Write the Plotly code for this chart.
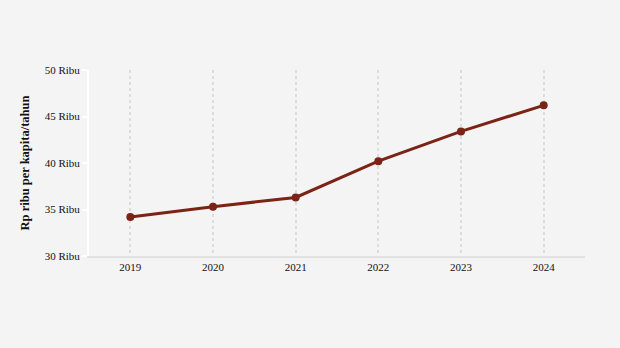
import plotly.graph_objects as go

years = [2019, 2020, 2021, 2022, 2023, 2024]
values = [34.2, 35.3, 36.3, 40.2, 43.4, 46.2]
y_ticks = [30, 35, 40, 45, 50]
y_tick_labels = ["30 Ribu", "35 Ribu", "40 Ribu", "45 Ribu", "50 Ribu"]

fig = go.Figure()
fig.add_trace(go.Scatter(
    x=years, y=values, mode="lines+markers",
    line=dict(color="#7b2316", width=3),
    marker=dict(color="#7b2316", size=8),
    showlegend=False,
))

fig.update_layout(
    width=620, height=348,
    paper_bgcolor="#f4f4f4", plot_bgcolor="#f4f4f4",
    margin=dict(l=89, r=35, t=70, b=92),
    font=dict(family="Liberation Serif, Times New Roman, serif", color="#111111", size=11),
)
fig.update_xaxes(
    range=[2018.5, 2024.5], tickvals=years, ticktext=[str(y) for y in years],
    showgrid=True, gridcolor="#dcdcdc", griddash="dot", gridwidth=1.5,
    showline=True, linecolor="#e2e2e2", linewidth=2,
    ticks="", zeroline=False, tickfont=dict(size=11),
)
fig.update_yaxes(
    range=[30, 50], tickvals=y_ticks, ticktext=y_tick_labels,
    showgrid=False, zeroline=False,
    showline=True, linecolor="#ffffff", linewidth=2,
    ticks="outside", tickcolor="#ffffff", ticklen=5, tickwidth=2,
    title=dict(text="<b>Rp ribu per kapita/tahun</b>", font=dict(size=12.5), standoff=12),
    tickfont=dict(size=11),
)

fig.write_html("out.html")
